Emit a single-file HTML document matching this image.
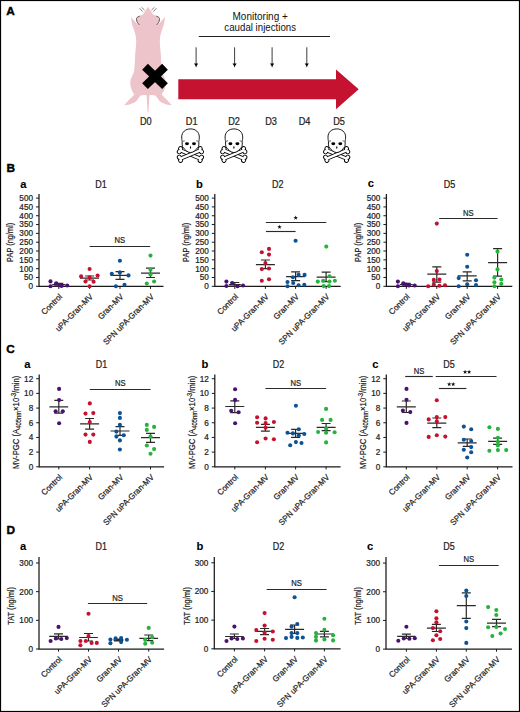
<!DOCTYPE html>
<html><head><meta charset="utf-8"><title>Figure</title>
<style>html,body{margin:0;padding:0;background:#fff;}svg{display:block;}</style>
</head><body>
<svg width="520" height="712" viewBox="0 0 520 712" font-family='"Liberation Sans", sans-serif' fill="#222"><style>text{stroke:#222;stroke-width:0.22px;} .th{stroke:none;fill:#111;} .bd{stroke:#000;stroke-width:0.1px;} .pl{stroke:#000;stroke-width:0.4px;}</style>
<rect x="0" y="0" width="520" height="712" fill="#fff"/>
<text x="6.30" y="14.70" font-size="11.8" text-anchor="start" font-weight="bold" fill="#000" class="pl">A</text>
<text x="6.40" y="172.20" font-size="11.8" text-anchor="start" font-weight="bold" fill="#000" class="pl">B</text>
<text x="6.30" y="353.00" font-size="11.8" text-anchor="start" font-weight="bold" fill="#000" class="pl">C</text>
<text x="6.40" y="534.40" font-size="11.8" text-anchor="start" font-weight="bold" fill="#000" class="pl">D</text>
<path fill="#eec4cb" d="M148,6.8 C146.20,9.60 144.20,12.60 142.40,14.90 C139.40,15.40 136.20,16.80 136.40,19.60 C136.60,21.80 137.90,23.60 139.30,25.30 L138.90,25.70 C136.90,23.50 133.60,20.20 131.10,17.00 C131.30,21.00 132.10,25.00 133.40,28.50 C134.50,31.50 136.00,35.00 136.20,40.00 C136.30,46.00 135.20,52.00 135.10,56.00 C135.00,62.00 134.30,68.00 134.00,72.00 C132.50,76.00 130.20,79.00 130.20,82.50 C130.20,86.00 131.30,90.50 134.30,94.60 C131.00,98.20 127.20,101.80 124.30,104.90 C128.20,105.60 133.00,103.60 136.20,101.30 C138.00,99.60 139.20,97.20 140.60,95.60 C142.20,94.90 144.20,94.80 146.60,95.20 L147.60,112.60 L148.40,112.6 L149.40,95.20 C151.80,94.80 153.80,94.90 155.40,95.60 C156.80,97.20 158.00,99.60 159.80,101.30 C163.00,103.60 167.80,105.60 171.70,104.90 C168.80,101.80 165.00,98.20 161.70,94.60 C164.70,90.50 165.80,86.00 165.80,82.50 C165.80,79.00 163.50,76.00 162.00,72.00 C161.70,68.00 161.00,62.00 160.90,56.00 C160.80,52.00 159.70,46.00 159.80,40.00 C160.00,35.00 161.50,31.50 162.60,28.50 C163.90,25.00 164.70,21.00 164.90,17.00 C162.40,20.20 159.10,23.50 157.10,25.70 L156.70,25.30 C158.10,23.60 159.40,21.80 159.60,19.60 C159.80,16.80 156.60,15.40 153.60,14.90 C151.80,12.60 149.80,9.60 148.00,6.80 Z"/>
<path fill="none" stroke="#4a4a4a" stroke-width="0.9" d="M139.6,16.2 C137.6,16.6 136.2,17.8 136.5,19.8 C136.8,21.8 138,23.6 139.4,25.0"/>
<path fill="none" stroke="#4a4a4a" stroke-width="0.9" d="M156.4,16.2 C158.4,16.6 159.8,17.8 159.5,19.8 C159.2,21.8 158,23.6 156.6,25.0"/>
<path fill="none" stroke="#4a4a4a" stroke-width="0.7" d="M139.5,8.2 L142.6,11.6 M141.5,7.2 L144.5,10.1 M156.5,8.2 L153.4,11.6 M154.5,7.2 L151.5,10.1"/>
<path stroke="#000" stroke-width="8.2" d="M145,66.7 L165,86.1 M165,66.7 L145,86.1"/>
<path fill="#c41230" d="M178.3,79.3 L336,79.3 L336,69.4 L358.7,89.3 L336,109.2 L336,99.2 L178.3,99.2 Z"/>
<line x1="198.8" y1="36.5" x2="330" y2="36.5" stroke="#222" stroke-width="1.1"/>
<text x="260.20" y="19.80" font-size="10" text-anchor="middle" font-weight="normal" class="th">Monitoring +</text>
<text x="0" y="0" transform="translate(260.20,30.80) scale(0.97,1)" font-size="10" text-anchor="middle" font-weight="normal" class="th">caudal injections</text>
<line x1="196.1" y1="47.3" x2="196.1" y2="64.2" stroke="#333" stroke-width="0.95"/>
<path fill="#000" d="M194.0,63.5 L198.2,63.5 L197.0,65.2 L196.1,67.4 L195.2,65.2 Z"/>
<line x1="234.6" y1="47.3" x2="234.6" y2="64.2" stroke="#333" stroke-width="0.95"/>
<path fill="#000" d="M232.5,63.5 L236.7,63.5 L235.5,65.2 L234.6,67.4 L233.7,65.2 Z"/>
<line x1="272.1" y1="47.3" x2="272.1" y2="64.2" stroke="#333" stroke-width="0.95"/>
<path fill="#000" d="M270.0,63.5 L274.20000000000005,63.5 L273.0,65.2 L272.1,67.4 L271.20000000000005,65.2 Z"/>
<line x1="306.8" y1="47.3" x2="306.8" y2="64.2" stroke="#333" stroke-width="0.95"/>
<path fill="#000" d="M304.7,63.5 L308.90000000000003,63.5 L307.7,65.2 L306.8,67.4 L305.90000000000003,65.2 Z"/>
<text x="0" y="0" transform="translate(145.80,124.60) scale(0.92,1)" font-size="10" text-anchor="middle" font-weight="normal" >D0</text>
<text x="0" y="0" transform="translate(191.70,124.60) scale(0.92,1)" font-size="10" text-anchor="middle" font-weight="normal" >D1</text>
<text x="0" y="0" transform="translate(234.10,124.60) scale(0.92,1)" font-size="10" text-anchor="middle" font-weight="normal" >D2</text>
<text x="0" y="0" transform="translate(271.10,124.60) scale(0.92,1)" font-size="10" text-anchor="middle" font-weight="normal" >D3</text>
<text x="0" y="0" transform="translate(304.50,124.60) scale(0.92,1)" font-size="10" text-anchor="middle" font-weight="normal" >D4</text>
<text x="0" y="0" transform="translate(339.00,124.60) scale(0.92,1)" font-size="10" text-anchor="middle" font-weight="normal" >D5</text>
<g transform="translate(190.4,154.5) rotate(22.5)"><rect x="-11.3" y="-1.15" width="22.6" height="2.3" fill="#000" stroke="#000" stroke-width="1.8"/><circle cx="-11.3" cy="-1.7" r="1.6" fill="#000" stroke="#000" stroke-width="1.8"/><circle cx="-11.3" cy="1.7" r="1.6" fill="#000" stroke="#000" stroke-width="1.8"/><circle cx="11.3" cy="-1.7" r="1.6" fill="#000" stroke="#000" stroke-width="1.8"/><circle cx="11.3" cy="1.7" r="1.6" fill="#000" stroke="#000" stroke-width="1.8"/></g>
<g transform="translate(190.4,154.5) rotate(22.5)"><rect x="-11.3" y="-1.15" width="22.6" height="2.3" fill="#fff"/><circle cx="-11.3" cy="-1.7" r="1.6" fill="#fff"/><circle cx="-11.3" cy="1.7" r="1.6" fill="#fff"/><circle cx="11.3" cy="-1.7" r="1.6" fill="#fff"/><circle cx="11.3" cy="1.7" r="1.6" fill="#fff"/></g>
<g transform="translate(190.4,154.5) rotate(-22.5)"><rect x="-11.3" y="-1.15" width="22.6" height="2.3" fill="#000" stroke="#000" stroke-width="1.8"/><circle cx="-11.3" cy="-1.7" r="1.6" fill="#000" stroke="#000" stroke-width="1.8"/><circle cx="-11.3" cy="1.7" r="1.6" fill="#000" stroke="#000" stroke-width="1.8"/><circle cx="11.3" cy="-1.7" r="1.6" fill="#000" stroke="#000" stroke-width="1.8"/><circle cx="11.3" cy="1.7" r="1.6" fill="#000" stroke="#000" stroke-width="1.8"/></g>
<g transform="translate(190.4,154.5) rotate(-22.5)"><rect x="-11.3" y="-1.15" width="22.6" height="2.3" fill="#fff"/><circle cx="-11.3" cy="-1.7" r="1.6" fill="#fff"/><circle cx="-11.3" cy="1.7" r="1.6" fill="#fff"/><circle cx="11.3" cy="-1.7" r="1.6" fill="#fff"/><circle cx="11.3" cy="1.7" r="1.6" fill="#fff"/></g>
<g transform="translate(190.5,128.9)">
<path fill="#fff" stroke="#000" stroke-width="0.9" stroke-linejoin="round" d="M0,0 C5,0 8.8,3.2 8.8,8 C8.8,10 8.6,11.5 8.3,12.5 C8.5,14 8.4,16.5 8.0,17.8 C6,20.5 3,23.7 0,23.7 C-3,23.7 -6,20.5 -8,17.8 C-8.4,16.5 -8.5,14 -8.3,12.5 C-8.6,11.5 -8.8,10 -8.8,8 C-8.8,3.2 -5,0 0,0 Z"/>
<path fill="none" stroke="#000" stroke-width="0.6" d="M-7.9,12.4 L-5.8,11.9 M7.9,12.4 L5.8,11.9"/>
<ellipse cx="-3.5" cy="14.8" rx="1.95" ry="1.45" fill="#000"/>
<ellipse cx="3.5" cy="14.8" rx="1.95" ry="1.45" fill="#000"/>
<ellipse cx="0" cy="18.6" rx="0.6" ry="1.2" fill="#000"/>
</g>
<g transform="translate(233.8,154.5) rotate(22.5)"><rect x="-11.3" y="-1.15" width="22.6" height="2.3" fill="#000" stroke="#000" stroke-width="1.8"/><circle cx="-11.3" cy="-1.7" r="1.6" fill="#000" stroke="#000" stroke-width="1.8"/><circle cx="-11.3" cy="1.7" r="1.6" fill="#000" stroke="#000" stroke-width="1.8"/><circle cx="11.3" cy="-1.7" r="1.6" fill="#000" stroke="#000" stroke-width="1.8"/><circle cx="11.3" cy="1.7" r="1.6" fill="#000" stroke="#000" stroke-width="1.8"/></g>
<g transform="translate(233.8,154.5) rotate(22.5)"><rect x="-11.3" y="-1.15" width="22.6" height="2.3" fill="#fff"/><circle cx="-11.3" cy="-1.7" r="1.6" fill="#fff"/><circle cx="-11.3" cy="1.7" r="1.6" fill="#fff"/><circle cx="11.3" cy="-1.7" r="1.6" fill="#fff"/><circle cx="11.3" cy="1.7" r="1.6" fill="#fff"/></g>
<g transform="translate(233.8,154.5) rotate(-22.5)"><rect x="-11.3" y="-1.15" width="22.6" height="2.3" fill="#000" stroke="#000" stroke-width="1.8"/><circle cx="-11.3" cy="-1.7" r="1.6" fill="#000" stroke="#000" stroke-width="1.8"/><circle cx="-11.3" cy="1.7" r="1.6" fill="#000" stroke="#000" stroke-width="1.8"/><circle cx="11.3" cy="-1.7" r="1.6" fill="#000" stroke="#000" stroke-width="1.8"/><circle cx="11.3" cy="1.7" r="1.6" fill="#000" stroke="#000" stroke-width="1.8"/></g>
<g transform="translate(233.8,154.5) rotate(-22.5)"><rect x="-11.3" y="-1.15" width="22.6" height="2.3" fill="#fff"/><circle cx="-11.3" cy="-1.7" r="1.6" fill="#fff"/><circle cx="-11.3" cy="1.7" r="1.6" fill="#fff"/><circle cx="11.3" cy="-1.7" r="1.6" fill="#fff"/><circle cx="11.3" cy="1.7" r="1.6" fill="#fff"/></g>
<g transform="translate(233.9,128.9)">
<path fill="#fff" stroke="#000" stroke-width="0.9" stroke-linejoin="round" d="M0,0 C5,0 8.8,3.2 8.8,8 C8.8,10 8.6,11.5 8.3,12.5 C8.5,14 8.4,16.5 8.0,17.8 C6,20.5 3,23.7 0,23.7 C-3,23.7 -6,20.5 -8,17.8 C-8.4,16.5 -8.5,14 -8.3,12.5 C-8.6,11.5 -8.8,10 -8.8,8 C-8.8,3.2 -5,0 0,0 Z"/>
<path fill="none" stroke="#000" stroke-width="0.6" d="M-7.9,12.4 L-5.8,11.9 M7.9,12.4 L5.8,11.9"/>
<ellipse cx="-3.5" cy="14.8" rx="1.95" ry="1.45" fill="#000"/>
<ellipse cx="3.5" cy="14.8" rx="1.95" ry="1.45" fill="#000"/>
<ellipse cx="0" cy="18.6" rx="0.6" ry="1.2" fill="#000"/>
</g>
<g transform="translate(336.7,154.5) rotate(22.5)"><rect x="-11.3" y="-1.15" width="22.6" height="2.3" fill="#000" stroke="#000" stroke-width="1.8"/><circle cx="-11.3" cy="-1.7" r="1.6" fill="#000" stroke="#000" stroke-width="1.8"/><circle cx="-11.3" cy="1.7" r="1.6" fill="#000" stroke="#000" stroke-width="1.8"/><circle cx="11.3" cy="-1.7" r="1.6" fill="#000" stroke="#000" stroke-width="1.8"/><circle cx="11.3" cy="1.7" r="1.6" fill="#000" stroke="#000" stroke-width="1.8"/></g>
<g transform="translate(336.7,154.5) rotate(22.5)"><rect x="-11.3" y="-1.15" width="22.6" height="2.3" fill="#fff"/><circle cx="-11.3" cy="-1.7" r="1.6" fill="#fff"/><circle cx="-11.3" cy="1.7" r="1.6" fill="#fff"/><circle cx="11.3" cy="-1.7" r="1.6" fill="#fff"/><circle cx="11.3" cy="1.7" r="1.6" fill="#fff"/></g>
<g transform="translate(336.7,154.5) rotate(-22.5)"><rect x="-11.3" y="-1.15" width="22.6" height="2.3" fill="#000" stroke="#000" stroke-width="1.8"/><circle cx="-11.3" cy="-1.7" r="1.6" fill="#000" stroke="#000" stroke-width="1.8"/><circle cx="-11.3" cy="1.7" r="1.6" fill="#000" stroke="#000" stroke-width="1.8"/><circle cx="11.3" cy="-1.7" r="1.6" fill="#000" stroke="#000" stroke-width="1.8"/><circle cx="11.3" cy="1.7" r="1.6" fill="#000" stroke="#000" stroke-width="1.8"/></g>
<g transform="translate(336.7,154.5) rotate(-22.5)"><rect x="-11.3" y="-1.15" width="22.6" height="2.3" fill="#fff"/><circle cx="-11.3" cy="-1.7" r="1.6" fill="#fff"/><circle cx="-11.3" cy="1.7" r="1.6" fill="#fff"/><circle cx="11.3" cy="-1.7" r="1.6" fill="#fff"/><circle cx="11.3" cy="1.7" r="1.6" fill="#fff"/></g>
<g transform="translate(336.8,128.9)">
<path fill="#fff" stroke="#000" stroke-width="0.9" stroke-linejoin="round" d="M0,0 C5,0 8.8,3.2 8.8,8 C8.8,10 8.6,11.5 8.3,12.5 C8.5,14 8.4,16.5 8.0,17.8 C6,20.5 3,23.7 0,23.7 C-3,23.7 -6,20.5 -8,17.8 C-8.4,16.5 -8.5,14 -8.3,12.5 C-8.6,11.5 -8.8,10 -8.8,8 C-8.8,3.2 -5,0 0,0 Z"/>
<path fill="none" stroke="#000" stroke-width="0.6" d="M-7.9,12.4 L-5.8,11.9 M7.9,12.4 L5.8,11.9"/>
<ellipse cx="-3.5" cy="14.8" rx="1.95" ry="1.45" fill="#000"/>
<ellipse cx="3.5" cy="14.8" rx="1.95" ry="1.45" fill="#000"/>
<ellipse cx="0" cy="18.6" rx="0.6" ry="1.2" fill="#000"/>
</g>
<path fill="none" stroke="#1a1a1a" stroke-width="1.25" d="M39.0,194.0 L39.0,286.3 L163.5,286.3"/>
<line x1="36.0" y1="286.30" x2="39.0" y2="286.30" stroke="#1a1a1a" stroke-width="1"/>
<text x="33.00" y="289.20" font-size="8.2" text-anchor="end" font-weight="normal" fill="#222">0</text>
<line x1="36.0" y1="277.48" x2="39.0" y2="277.48" stroke="#1a1a1a" stroke-width="1"/>
<text x="33.00" y="280.38" font-size="8.2" text-anchor="end" font-weight="normal" fill="#222">50</text>
<line x1="36.0" y1="268.66" x2="39.0" y2="268.66" stroke="#1a1a1a" stroke-width="1"/>
<text x="33.00" y="271.56" font-size="8.2" text-anchor="end" font-weight="normal" fill="#222">100</text>
<line x1="36.0" y1="259.84" x2="39.0" y2="259.84" stroke="#1a1a1a" stroke-width="1"/>
<text x="33.00" y="262.74" font-size="8.2" text-anchor="end" font-weight="normal" fill="#222">150</text>
<line x1="36.0" y1="251.02" x2="39.0" y2="251.02" stroke="#1a1a1a" stroke-width="1"/>
<text x="33.00" y="253.92" font-size="8.2" text-anchor="end" font-weight="normal" fill="#222">200</text>
<line x1="36.0" y1="242.20" x2="39.0" y2="242.20" stroke="#1a1a1a" stroke-width="1"/>
<text x="33.00" y="245.10" font-size="8.2" text-anchor="end" font-weight="normal" fill="#222">250</text>
<line x1="36.0" y1="233.38" x2="39.0" y2="233.38" stroke="#1a1a1a" stroke-width="1"/>
<text x="33.00" y="236.28" font-size="8.2" text-anchor="end" font-weight="normal" fill="#222">300</text>
<line x1="36.0" y1="224.56" x2="39.0" y2="224.56" stroke="#1a1a1a" stroke-width="1"/>
<text x="33.00" y="227.46" font-size="8.2" text-anchor="end" font-weight="normal" fill="#222">350</text>
<line x1="36.0" y1="215.74" x2="39.0" y2="215.74" stroke="#1a1a1a" stroke-width="1"/>
<text x="33.00" y="218.64" font-size="8.2" text-anchor="end" font-weight="normal" fill="#222">400</text>
<line x1="36.0" y1="206.92" x2="39.0" y2="206.92" stroke="#1a1a1a" stroke-width="1"/>
<text x="33.00" y="209.82" font-size="8.2" text-anchor="end" font-weight="normal" fill="#222">450</text>
<line x1="36.0" y1="198.10" x2="39.0" y2="198.10" stroke="#1a1a1a" stroke-width="1"/>
<text x="33.00" y="201.00" font-size="8.2" text-anchor="end" font-weight="normal" fill="#222">500</text>
<line x1="58.8" y1="286.3" x2="58.8" y2="288.90000000000003" stroke="#1a1a1a" stroke-width="1"/>
<line x1="89.6" y1="286.3" x2="89.6" y2="288.90000000000003" stroke="#1a1a1a" stroke-width="1"/>
<line x1="120.0" y1="286.3" x2="120.0" y2="288.90000000000003" stroke="#1a1a1a" stroke-width="1"/>
<line x1="150.5" y1="286.3" x2="150.5" y2="288.90000000000003" stroke="#1a1a1a" stroke-width="1"/>
<text x="0" y="0" font-size="8.2" text-anchor="end" fill="#222" transform="translate(62.70,297.20) rotate(-45) scale(0.97,1)">Control</text>
<text x="0" y="0" font-size="8.2" text-anchor="end" fill="#222" transform="translate(93.50,297.20) rotate(-45) scale(0.97,1)">uPA-Gran-MV</text>
<text x="0" y="0" font-size="8.2" text-anchor="end" fill="#222" transform="translate(123.90,297.20) rotate(-45) scale(0.97,1)">Gran-MV</text>
<text x="0" y="0" font-size="8.2" text-anchor="end" fill="#222" transform="translate(154.40,297.20) rotate(-45) scale(0.97,1)">SPN uPA-Gran-MV</text>
<text x="0" y="0" font-size="9.2" text-anchor="middle" fill="#222" transform="translate(13.4,242.4) rotate(-90) scale(0.8,1)">PAP (ng/ml)</text>
<text x="20.20" y="188.00" font-size="11.2" text-anchor="start" font-weight="bold" fill="#000" class="bd">a</text>
<text x="0" y="0" transform="translate(101.00,188.00) scale(0.9,1)" font-size="10" text-anchor="middle" font-weight="normal" fill="#222">D1</text>
<line x1="89.6" y1="246.5" x2="150.1" y2="246.5" stroke="#2a2a2a" stroke-width="1.15"/>
<text x="0" y="0" transform="translate(119.85,243.40) scale(0.88,1)" font-size="8.7" text-anchor="middle" font-weight="normal" fill="#222">NS</text>
<path fill="none" stroke="#2a2a2a" stroke-width="1.2" d="M52.30,284.70 L65.30,284.70 M58.80,283.40 L58.80,286.00 M54.30,283.40 L63.30,283.40 M54.30,286.00 L63.30,286.00"/>
<path fill="none" stroke="#2a2a2a" stroke-width="1.2" d="M80.10,278.20 L99.10,278.20 M89.60,276.00 L89.60,280.00 M85.10,276.00 L94.10,276.00 M85.10,280.00 L94.10,280.00"/>
<path fill="none" stroke="#2a2a2a" stroke-width="1.2" d="M110.50,275.40 L129.50,275.40 M120.00,271.70 L120.00,279.40 M115.50,271.70 L124.50,271.70 M115.50,279.40 L124.50,279.40"/>
<path fill="none" stroke="#2a2a2a" stroke-width="1.2" d="M141.00,273.10 L160.00,273.10 M150.50,268.10 L150.50,277.50 M146.00,268.10 L155.00,268.10 M146.00,277.50 L155.00,277.50"/>
<circle cx="50.50" cy="281.40" r="2.05" fill="#4a1270"/>
<circle cx="50.50" cy="286.30" r="2.05" fill="#4a1270"/>
<circle cx="56.20" cy="283.40" r="2.05" fill="#4a1270"/>
<circle cx="60.00" cy="285.20" r="2.05" fill="#4a1270"/>
<circle cx="61.60" cy="285.90" r="2.05" fill="#4a1270"/>
<circle cx="67.20" cy="285.50" r="2.05" fill="#4a1270"/>
<circle cx="89.60" cy="269.00" r="2.05" fill="#c8102e"/>
<circle cx="81.10" cy="276.40" r="2.05" fill="#c8102e"/>
<circle cx="97.60" cy="275.50" r="2.05" fill="#c8102e"/>
<circle cx="89.60" cy="277.40" r="2.05" fill="#c8102e"/>
<circle cx="85.50" cy="281.50" r="2.05" fill="#c8102e"/>
<circle cx="93.60" cy="281.80" r="2.05" fill="#c8102e"/>
<circle cx="89.60" cy="286.30" r="2.05" fill="#c8102e"/>
<circle cx="119.90" cy="260.70" r="2.05" fill="#0b5296"/>
<circle cx="119.90" cy="272.40" r="2.05" fill="#0b5296"/>
<circle cx="111.80" cy="273.70" r="2.05" fill="#0b5296"/>
<circle cx="128.50" cy="275.40" r="2.05" fill="#0b5296"/>
<circle cx="115.90" cy="286.30" r="2.05" fill="#0b5296"/>
<circle cx="124.50" cy="284.80" r="2.05" fill="#0b5296"/>
<circle cx="150.50" cy="255.60" r="2.05" fill="#27b33b"/>
<circle cx="150.50" cy="269.70" r="2.05" fill="#27b33b"/>
<circle cx="150.50" cy="274.40" r="2.05" fill="#27b33b"/>
<circle cx="146.80" cy="283.60" r="2.05" fill="#27b33b"/>
<circle cx="154.10" cy="281.50" r="2.05" fill="#27b33b"/>
<path fill="none" stroke="#1a1a1a" stroke-width="1.25" d="M214.8,194.0 L214.8,286.3 L340.6,286.3"/>
<line x1="211.8" y1="286.30" x2="214.8" y2="286.30" stroke="#1a1a1a" stroke-width="1"/>
<text x="208.80" y="289.20" font-size="8.2" text-anchor="end" font-weight="normal" fill="#222">0</text>
<line x1="211.8" y1="277.48" x2="214.8" y2="277.48" stroke="#1a1a1a" stroke-width="1"/>
<text x="208.80" y="280.38" font-size="8.2" text-anchor="end" font-weight="normal" fill="#222">50</text>
<line x1="211.8" y1="268.66" x2="214.8" y2="268.66" stroke="#1a1a1a" stroke-width="1"/>
<text x="208.80" y="271.56" font-size="8.2" text-anchor="end" font-weight="normal" fill="#222">100</text>
<line x1="211.8" y1="259.84" x2="214.8" y2="259.84" stroke="#1a1a1a" stroke-width="1"/>
<text x="208.80" y="262.74" font-size="8.2" text-anchor="end" font-weight="normal" fill="#222">150</text>
<line x1="211.8" y1="251.02" x2="214.8" y2="251.02" stroke="#1a1a1a" stroke-width="1"/>
<text x="208.80" y="253.92" font-size="8.2" text-anchor="end" font-weight="normal" fill="#222">200</text>
<line x1="211.8" y1="242.20" x2="214.8" y2="242.20" stroke="#1a1a1a" stroke-width="1"/>
<text x="208.80" y="245.10" font-size="8.2" text-anchor="end" font-weight="normal" fill="#222">250</text>
<line x1="211.8" y1="233.38" x2="214.8" y2="233.38" stroke="#1a1a1a" stroke-width="1"/>
<text x="208.80" y="236.28" font-size="8.2" text-anchor="end" font-weight="normal" fill="#222">300</text>
<line x1="211.8" y1="224.56" x2="214.8" y2="224.56" stroke="#1a1a1a" stroke-width="1"/>
<text x="208.80" y="227.46" font-size="8.2" text-anchor="end" font-weight="normal" fill="#222">350</text>
<line x1="211.8" y1="215.74" x2="214.8" y2="215.74" stroke="#1a1a1a" stroke-width="1"/>
<text x="208.80" y="218.64" font-size="8.2" text-anchor="end" font-weight="normal" fill="#222">400</text>
<line x1="211.8" y1="206.92" x2="214.8" y2="206.92" stroke="#1a1a1a" stroke-width="1"/>
<text x="208.80" y="209.82" font-size="8.2" text-anchor="end" font-weight="normal" fill="#222">450</text>
<line x1="211.8" y1="198.10" x2="214.8" y2="198.10" stroke="#1a1a1a" stroke-width="1"/>
<text x="208.80" y="201.00" font-size="8.2" text-anchor="end" font-weight="normal" fill="#222">500</text>
<line x1="234.8" y1="286.3" x2="234.8" y2="288.90000000000003" stroke="#1a1a1a" stroke-width="1"/>
<line x1="265.4" y1="286.3" x2="265.4" y2="288.90000000000003" stroke="#1a1a1a" stroke-width="1"/>
<line x1="295.6" y1="286.3" x2="295.6" y2="288.90000000000003" stroke="#1a1a1a" stroke-width="1"/>
<line x1="326.1" y1="286.3" x2="326.1" y2="288.90000000000003" stroke="#1a1a1a" stroke-width="1"/>
<text x="0" y="0" font-size="8.2" text-anchor="end" fill="#222" transform="translate(238.70,297.20) rotate(-45) scale(0.97,1)">Control</text>
<text x="0" y="0" font-size="8.2" text-anchor="end" fill="#222" transform="translate(269.30,297.20) rotate(-45) scale(0.97,1)">uPA-Gran-MV</text>
<text x="0" y="0" font-size="8.2" text-anchor="end" fill="#222" transform="translate(299.50,297.20) rotate(-45) scale(0.97,1)">Gran-MV</text>
<text x="0" y="0" font-size="8.2" text-anchor="end" fill="#222" transform="translate(330.00,297.20) rotate(-45) scale(0.97,1)">SPN uPA-Gran-MV</text>
<text x="0" y="0" font-size="9.2" text-anchor="middle" fill="#222" transform="translate(189.2,242.4) rotate(-90) scale(0.8,1)">PAP (ng/ml)</text>
<text x="196.00" y="187.50" font-size="11.2" text-anchor="start" font-weight="bold" fill="#000" class="bd">b</text>
<text x="0" y="0" transform="translate(277.70,187.50) scale(0.9,1)" font-size="10" text-anchor="middle" font-weight="normal" fill="#222">D2</text>
<line x1="265.9" y1="222.5" x2="326.3" y2="222.5" stroke="#2a2a2a" stroke-width="1.15"/>
<polygon fill="#111" points="295.70,215.50 296.29,216.99 297.89,217.09 296.65,218.11 297.05,219.66 295.70,218.80 294.35,219.66 294.75,218.11 293.51,217.09 295.11,216.99"/>
<line x1="265.9" y1="231.5" x2="295.6" y2="231.5" stroke="#2a2a2a" stroke-width="1.15"/>
<polygon fill="#111" points="279.50,224.70 280.09,226.19 281.69,226.29 280.45,227.31 280.85,228.86 279.50,228.00 278.15,228.86 278.55,227.31 277.31,226.29 278.91,226.19"/>
<path fill="none" stroke="#2a2a2a" stroke-width="1.2" d="M228.80,284.60 L240.80,284.60 M234.80,282.50 L234.80,286.30 M230.30,282.50 L239.30,282.50 M230.30,286.30 L239.30,286.30"/>
<path fill="none" stroke="#2a2a2a" stroke-width="1.2" d="M255.90,264.70 L274.90,264.70 M265.40,260.00 L265.40,268.70 M260.90,260.00 L269.90,260.00 M260.90,268.70 L269.90,268.70"/>
<path fill="none" stroke="#2a2a2a" stroke-width="1.2" d="M286.10,276.60 L305.10,276.60 M295.60,271.80 L295.60,280.70 M291.10,271.80 L300.10,271.80 M291.10,280.70 L300.10,280.70"/>
<path fill="none" stroke="#2a2a2a" stroke-width="1.2" d="M316.60,277.20 L335.60,277.20 M326.10,272.20 L326.10,281.60 M321.60,272.20 L330.60,272.20 M321.60,281.60 L330.60,281.60"/>
<circle cx="226.40" cy="281.60" r="2.05" fill="#4a1270"/>
<circle cx="226.40" cy="286.00" r="2.05" fill="#4a1270"/>
<circle cx="232.20" cy="283.00" r="2.05" fill="#4a1270"/>
<circle cx="237.60" cy="286.20" r="2.05" fill="#4a1270"/>
<circle cx="243.00" cy="285.50" r="2.05" fill="#4a1270"/>
<circle cx="269.00" cy="248.90" r="2.05" fill="#c8102e"/>
<circle cx="261.80" cy="252.30" r="2.05" fill="#c8102e"/>
<circle cx="269.00" cy="254.60" r="2.05" fill="#c8102e"/>
<circle cx="265.40" cy="263.10" r="2.05" fill="#c8102e"/>
<circle cx="261.80" cy="269.10" r="2.05" fill="#c8102e"/>
<circle cx="269.00" cy="268.50" r="2.05" fill="#c8102e"/>
<circle cx="261.80" cy="280.80" r="2.05" fill="#c8102e"/>
<circle cx="269.00" cy="279.20" r="2.05" fill="#c8102e"/>
<circle cx="295.60" cy="240.70" r="2.05" fill="#0b5296"/>
<circle cx="298.60" cy="274.90" r="2.05" fill="#0b5296"/>
<circle cx="304.60" cy="274.90" r="2.05" fill="#0b5296"/>
<circle cx="292.90" cy="277.30" r="2.05" fill="#0b5296"/>
<circle cx="287.50" cy="282.00" r="2.05" fill="#0b5296"/>
<circle cx="293.20" cy="283.00" r="2.05" fill="#0b5296"/>
<circle cx="287.50" cy="286.30" r="2.05" fill="#0b5296"/>
<circle cx="298.60" cy="285.30" r="2.05" fill="#0b5296"/>
<circle cx="304.30" cy="284.70" r="2.05" fill="#0b5296"/>
<circle cx="326.30" cy="246.60" r="2.05" fill="#27b33b"/>
<circle cx="329.50" cy="276.20" r="2.05" fill="#27b33b"/>
<circle cx="317.80" cy="281.60" r="2.05" fill="#27b33b"/>
<circle cx="323.20" cy="280.70" r="2.05" fill="#27b33b"/>
<circle cx="329.50" cy="281.60" r="2.05" fill="#27b33b"/>
<circle cx="334.90" cy="280.70" r="2.05" fill="#27b33b"/>
<circle cx="323.70" cy="286.10" r="2.05" fill="#27b33b"/>
<circle cx="329.10" cy="286.10" r="2.05" fill="#27b33b"/>
<path fill="none" stroke="#1a1a1a" stroke-width="1.25" d="M386.4,194.0 L386.4,286.3 L512.3,286.3"/>
<line x1="383.4" y1="286.30" x2="386.4" y2="286.30" stroke="#1a1a1a" stroke-width="1"/>
<text x="380.40" y="289.20" font-size="8.2" text-anchor="end" font-weight="normal" fill="#222">0</text>
<line x1="383.4" y1="277.48" x2="386.4" y2="277.48" stroke="#1a1a1a" stroke-width="1"/>
<text x="380.40" y="280.38" font-size="8.2" text-anchor="end" font-weight="normal" fill="#222">50</text>
<line x1="383.4" y1="268.66" x2="386.4" y2="268.66" stroke="#1a1a1a" stroke-width="1"/>
<text x="380.40" y="271.56" font-size="8.2" text-anchor="end" font-weight="normal" fill="#222">100</text>
<line x1="383.4" y1="259.84" x2="386.4" y2="259.84" stroke="#1a1a1a" stroke-width="1"/>
<text x="380.40" y="262.74" font-size="8.2" text-anchor="end" font-weight="normal" fill="#222">150</text>
<line x1="383.4" y1="251.02" x2="386.4" y2="251.02" stroke="#1a1a1a" stroke-width="1"/>
<text x="380.40" y="253.92" font-size="8.2" text-anchor="end" font-weight="normal" fill="#222">200</text>
<line x1="383.4" y1="242.20" x2="386.4" y2="242.20" stroke="#1a1a1a" stroke-width="1"/>
<text x="380.40" y="245.10" font-size="8.2" text-anchor="end" font-weight="normal" fill="#222">250</text>
<line x1="383.4" y1="233.38" x2="386.4" y2="233.38" stroke="#1a1a1a" stroke-width="1"/>
<text x="380.40" y="236.28" font-size="8.2" text-anchor="end" font-weight="normal" fill="#222">300</text>
<line x1="383.4" y1="224.56" x2="386.4" y2="224.56" stroke="#1a1a1a" stroke-width="1"/>
<text x="380.40" y="227.46" font-size="8.2" text-anchor="end" font-weight="normal" fill="#222">350</text>
<line x1="383.4" y1="215.74" x2="386.4" y2="215.74" stroke="#1a1a1a" stroke-width="1"/>
<text x="380.40" y="218.64" font-size="8.2" text-anchor="end" font-weight="normal" fill="#222">400</text>
<line x1="383.4" y1="206.92" x2="386.4" y2="206.92" stroke="#1a1a1a" stroke-width="1"/>
<text x="380.40" y="209.82" font-size="8.2" text-anchor="end" font-weight="normal" fill="#222">450</text>
<line x1="383.4" y1="198.10" x2="386.4" y2="198.10" stroke="#1a1a1a" stroke-width="1"/>
<text x="380.40" y="201.00" font-size="8.2" text-anchor="end" font-weight="normal" fill="#222">500</text>
<line x1="406.3" y1="286.3" x2="406.3" y2="288.90000000000003" stroke="#1a1a1a" stroke-width="1"/>
<line x1="436.8" y1="286.3" x2="436.8" y2="288.90000000000003" stroke="#1a1a1a" stroke-width="1"/>
<line x1="467.2" y1="286.3" x2="467.2" y2="288.90000000000003" stroke="#1a1a1a" stroke-width="1"/>
<line x1="497.6" y1="286.3" x2="497.6" y2="288.90000000000003" stroke="#1a1a1a" stroke-width="1"/>
<text x="0" y="0" font-size="8.2" text-anchor="end" fill="#222" transform="translate(410.20,297.20) rotate(-45) scale(0.97,1)">Control</text>
<text x="0" y="0" font-size="8.2" text-anchor="end" fill="#222" transform="translate(440.70,297.20) rotate(-45) scale(0.97,1)">uPA-Gran-MV</text>
<text x="0" y="0" font-size="8.2" text-anchor="end" fill="#222" transform="translate(471.10,297.20) rotate(-45) scale(0.97,1)">Gran-MV</text>
<text x="0" y="0" font-size="8.2" text-anchor="end" fill="#222" transform="translate(501.50,297.20) rotate(-45) scale(0.97,1)">SPN uPA-Gran-MV</text>
<text x="0" y="0" font-size="9.2" text-anchor="middle" fill="#222" transform="translate(360.8,242.4) rotate(-90) scale(0.8,1)">PAP (ng/ml)</text>
<text x="367.70" y="187.20" font-size="11.2" text-anchor="start" font-weight="bold" fill="#000" class="bd">c</text>
<text x="0" y="0" transform="translate(449.60,187.50) scale(0.9,1)" font-size="10" text-anchor="middle" font-weight="normal" fill="#222">D5</text>
<line x1="439.2" y1="218.5" x2="497.5" y2="218.5" stroke="#2a2a2a" stroke-width="1.15"/>
<text x="0" y="0" transform="translate(468.35,215.50) scale(0.88,1)" font-size="8.7" text-anchor="middle" font-weight="normal" fill="#222">NS</text>
<path fill="none" stroke="#2a2a2a" stroke-width="1.2" d="M399.80,284.50 L412.80,284.50 M406.30,283.30 L406.30,285.80 M401.80,283.30 L410.80,283.30 M401.80,285.80 L410.80,285.80"/>
<path fill="none" stroke="#2a2a2a" stroke-width="1.2" d="M427.30,274.20 L446.30,274.20 M436.80,266.80 L436.80,282.20 M432.30,266.80 L441.30,266.80 M432.30,282.20 L441.30,282.20"/>
<path fill="none" stroke="#2a2a2a" stroke-width="1.2" d="M457.70,275.90 L476.70,275.90 M467.20,271.80 L467.20,280.80 M462.70,271.80 L471.70,271.80 M462.70,280.80 L471.70,280.80"/>
<path fill="none" stroke="#2a2a2a" stroke-width="1.2" d="M488.10,262.70 L507.10,262.70 M497.60,248.70 L497.60,276.10 M493.10,248.70 L502.10,248.70 M493.10,276.10 L502.10,276.10"/>
<circle cx="397.90" cy="281.60" r="2.05" fill="#4a1270"/>
<circle cx="397.90" cy="286.20" r="2.05" fill="#4a1270"/>
<circle cx="403.30" cy="283.30" r="2.05" fill="#4a1270"/>
<circle cx="406.20" cy="284.60" r="2.05" fill="#4a1270"/>
<circle cx="408.90" cy="285.50" r="2.05" fill="#4a1270"/>
<circle cx="414.70" cy="285.50" r="2.05" fill="#4a1270"/>
<circle cx="436.80" cy="223.60" r="2.05" fill="#c8102e"/>
<circle cx="436.80" cy="271.10" r="2.05" fill="#c8102e"/>
<circle cx="433.80" cy="279.90" r="2.05" fill="#c8102e"/>
<circle cx="439.50" cy="279.50" r="2.05" fill="#c8102e"/>
<circle cx="433.80" cy="284.60" r="2.05" fill="#c8102e"/>
<circle cx="428.20" cy="286.20" r="2.05" fill="#c8102e"/>
<circle cx="439.50" cy="285.70" r="2.05" fill="#c8102e"/>
<circle cx="445.00" cy="285.30" r="2.05" fill="#c8102e"/>
<circle cx="467.20" cy="254.70" r="2.05" fill="#0b5296"/>
<circle cx="467.20" cy="266.70" r="2.05" fill="#0b5296"/>
<circle cx="458.70" cy="278.10" r="2.05" fill="#0b5296"/>
<circle cx="476.00" cy="280.20" r="2.05" fill="#0b5296"/>
<circle cx="467.20" cy="284.20" r="2.05" fill="#0b5296"/>
<circle cx="458.70" cy="286.20" r="2.05" fill="#0b5296"/>
<circle cx="476.00" cy="285.10" r="2.05" fill="#0b5296"/>
<circle cx="497.50" cy="251.60" r="2.05" fill="#27b33b"/>
<circle cx="497.50" cy="269.40" r="2.05" fill="#27b33b"/>
<circle cx="494.40" cy="277.60" r="2.05" fill="#27b33b"/>
<circle cx="501.30" cy="279.50" r="2.05" fill="#27b33b"/>
<circle cx="494.40" cy="282.20" r="2.05" fill="#27b33b"/>
<circle cx="501.30" cy="283.90" r="2.05" fill="#27b33b"/>
<circle cx="494.40" cy="286.30" r="2.05" fill="#27b33b"/>
<path fill="none" stroke="#1a1a1a" stroke-width="1.25" d="M39.2,374.6 L39.2,466.8 L164.1,466.8"/>
<line x1="36.2" y1="466.80" x2="39.2" y2="466.80" stroke="#1a1a1a" stroke-width="1"/>
<text x="33.20" y="469.70" font-size="8.2" text-anchor="end" font-weight="normal" fill="#222">0</text>
<line x1="36.2" y1="452.12" x2="39.2" y2="452.12" stroke="#1a1a1a" stroke-width="1"/>
<text x="33.20" y="455.02" font-size="8.2" text-anchor="end" font-weight="normal" fill="#222">2</text>
<line x1="36.2" y1="437.44" x2="39.2" y2="437.44" stroke="#1a1a1a" stroke-width="1"/>
<text x="33.20" y="440.34" font-size="8.2" text-anchor="end" font-weight="normal" fill="#222">4</text>
<line x1="36.2" y1="422.76" x2="39.2" y2="422.76" stroke="#1a1a1a" stroke-width="1"/>
<text x="33.20" y="425.66" font-size="8.2" text-anchor="end" font-weight="normal" fill="#222">6</text>
<line x1="36.2" y1="408.08" x2="39.2" y2="408.08" stroke="#1a1a1a" stroke-width="1"/>
<text x="33.20" y="410.98" font-size="8.2" text-anchor="end" font-weight="normal" fill="#222">8</text>
<line x1="36.2" y1="393.40" x2="39.2" y2="393.40" stroke="#1a1a1a" stroke-width="1"/>
<text x="33.20" y="396.30" font-size="8.2" text-anchor="end" font-weight="normal" fill="#222">10</text>
<line x1="36.2" y1="378.72" x2="39.2" y2="378.72" stroke="#1a1a1a" stroke-width="1"/>
<text x="33.20" y="381.62" font-size="8.2" text-anchor="end" font-weight="normal" fill="#222">12</text>
<line x1="58.8" y1="466.8" x2="58.8" y2="469.40000000000003" stroke="#1a1a1a" stroke-width="1"/>
<line x1="89.6" y1="466.8" x2="89.6" y2="469.40000000000003" stroke="#1a1a1a" stroke-width="1"/>
<line x1="120.0" y1="466.8" x2="120.0" y2="469.40000000000003" stroke="#1a1a1a" stroke-width="1"/>
<line x1="150.5" y1="466.8" x2="150.5" y2="469.40000000000003" stroke="#1a1a1a" stroke-width="1"/>
<text x="0" y="0" font-size="8.2" text-anchor="end" fill="#222" transform="translate(62.70,477.70) rotate(-45) scale(0.97,1)">Control</text>
<text x="0" y="0" font-size="8.2" text-anchor="end" fill="#222" transform="translate(93.50,477.70) rotate(-45) scale(0.97,1)">uPA-Gran-MV</text>
<text x="0" y="0" font-size="8.2" text-anchor="end" fill="#222" transform="translate(123.90,477.70) rotate(-45) scale(0.97,1)">Gran-MV</text>
<text x="0" y="0" font-size="8.2" text-anchor="end" fill="#222" transform="translate(154.40,477.70) rotate(-45) scale(0.97,1)">SPN uPA-Gran-MV</text>
<text x="0" y="0" font-size="9.0" text-anchor="middle" fill="#222" transform="translate(19.3,422.4) rotate(-90) scale(0.86,1)">MV-PGC (A<tspan font-size="6.8" dy="1.9">405nm</tspan><tspan dy="-1.9">×10</tspan><tspan font-size="6.4" dy="-3">-3</tspan><tspan dy="3">/min)</tspan></text>
<text x="24.20" y="368.00" font-size="11.2" text-anchor="start" font-weight="bold" fill="#000" class="bd">a</text>
<text x="0" y="0" transform="translate(101.50,367.80) scale(0.9,1)" font-size="10" text-anchor="middle" font-weight="normal" fill="#222">D1</text>
<line x1="89.8" y1="389.5" x2="150.6" y2="389.5" stroke="#2a2a2a" stroke-width="1.15"/>
<text x="0" y="0" transform="translate(120.20,386.40) scale(0.88,1)" font-size="8.7" text-anchor="middle" font-weight="normal" fill="#222">NS</text>
<path fill="none" stroke="#2a2a2a" stroke-width="1.2" d="M49.40,406.90 L68.20,406.90 M58.80,400.40 L58.80,413.10 M54.30,400.40 L63.30,400.40 M54.30,413.10 L63.30,413.10"/>
<path fill="none" stroke="#2a2a2a" stroke-width="1.2" d="M80.10,423.90 L99.10,423.90 M89.60,418.50 L89.60,429.20 M85.10,418.50 L94.10,418.50 M85.10,429.20 L94.10,429.20"/>
<path fill="none" stroke="#2a2a2a" stroke-width="1.2" d="M110.50,431.00 L129.50,431.00 M120.00,426.60 L120.00,435.30 M115.50,426.60 L124.50,426.60 M115.50,435.30 L124.50,435.30"/>
<path fill="none" stroke="#2a2a2a" stroke-width="1.2" d="M141.00,437.70 L160.00,437.70 M150.50,433.40 L150.50,442.40 M146.00,433.40 L155.00,433.40 M146.00,442.40 L155.00,442.40"/>
<circle cx="59.10" cy="388.90" r="2.05" fill="#4a1270"/>
<circle cx="59.10" cy="400.00" r="2.05" fill="#4a1270"/>
<circle cx="55.60" cy="411.20" r="2.05" fill="#4a1270"/>
<circle cx="62.80" cy="411.20" r="2.05" fill="#4a1270"/>
<circle cx="59.10" cy="423.30" r="2.05" fill="#4a1270"/>
<circle cx="89.80" cy="403.40" r="2.05" fill="#c8102e"/>
<circle cx="85.50" cy="413.60" r="2.05" fill="#c8102e"/>
<circle cx="93.30" cy="413.10" r="2.05" fill="#c8102e"/>
<circle cx="89.80" cy="422.00" r="2.05" fill="#c8102e"/>
<circle cx="85.50" cy="434.60" r="2.05" fill="#c8102e"/>
<circle cx="93.30" cy="434.60" r="2.05" fill="#c8102e"/>
<circle cx="89.80" cy="441.90" r="2.05" fill="#c8102e"/>
<circle cx="119.90" cy="413.10" r="2.05" fill="#0b5296"/>
<circle cx="119.90" cy="417.90" r="2.05" fill="#0b5296"/>
<circle cx="119.90" cy="424.90" r="2.05" fill="#0b5296"/>
<circle cx="116.40" cy="431.60" r="2.05" fill="#0b5296"/>
<circle cx="116.40" cy="436.60" r="2.05" fill="#0b5296"/>
<circle cx="123.80" cy="435.30" r="2.05" fill="#0b5296"/>
<circle cx="119.90" cy="440.40" r="2.05" fill="#0b5296"/>
<circle cx="119.90" cy="449.50" r="2.05" fill="#0b5296"/>
<circle cx="146.80" cy="424.90" r="2.05" fill="#27b33b"/>
<circle cx="154.10" cy="426.90" r="2.05" fill="#27b33b"/>
<circle cx="146.80" cy="429.90" r="2.05" fill="#27b33b"/>
<circle cx="150.50" cy="436.60" r="2.05" fill="#27b33b"/>
<circle cx="146.80" cy="445.50" r="2.05" fill="#27b33b"/>
<circle cx="154.10" cy="449.10" r="2.05" fill="#27b33b"/>
<circle cx="150.50" cy="453.80" r="2.05" fill="#27b33b"/>
<path fill="none" stroke="#1a1a1a" stroke-width="1.25" d="M214.8,374.6 L214.8,466.8 L340.6,466.8"/>
<line x1="211.8" y1="466.80" x2="214.8" y2="466.80" stroke="#1a1a1a" stroke-width="1"/>
<text x="208.80" y="469.70" font-size="8.2" text-anchor="end" font-weight="normal" fill="#222">0</text>
<line x1="211.8" y1="452.12" x2="214.8" y2="452.12" stroke="#1a1a1a" stroke-width="1"/>
<text x="208.80" y="455.02" font-size="8.2" text-anchor="end" font-weight="normal" fill="#222">2</text>
<line x1="211.8" y1="437.44" x2="214.8" y2="437.44" stroke="#1a1a1a" stroke-width="1"/>
<text x="208.80" y="440.34" font-size="8.2" text-anchor="end" font-weight="normal" fill="#222">4</text>
<line x1="211.8" y1="422.76" x2="214.8" y2="422.76" stroke="#1a1a1a" stroke-width="1"/>
<text x="208.80" y="425.66" font-size="8.2" text-anchor="end" font-weight="normal" fill="#222">6</text>
<line x1="211.8" y1="408.08" x2="214.8" y2="408.08" stroke="#1a1a1a" stroke-width="1"/>
<text x="208.80" y="410.98" font-size="8.2" text-anchor="end" font-weight="normal" fill="#222">8</text>
<line x1="211.8" y1="393.40" x2="214.8" y2="393.40" stroke="#1a1a1a" stroke-width="1"/>
<text x="208.80" y="396.30" font-size="8.2" text-anchor="end" font-weight="normal" fill="#222">10</text>
<line x1="211.8" y1="378.72" x2="214.8" y2="378.72" stroke="#1a1a1a" stroke-width="1"/>
<text x="208.80" y="381.62" font-size="8.2" text-anchor="end" font-weight="normal" fill="#222">12</text>
<line x1="234.8" y1="466.8" x2="234.8" y2="469.40000000000003" stroke="#1a1a1a" stroke-width="1"/>
<line x1="265.4" y1="466.8" x2="265.4" y2="469.40000000000003" stroke="#1a1a1a" stroke-width="1"/>
<line x1="295.6" y1="466.8" x2="295.6" y2="469.40000000000003" stroke="#1a1a1a" stroke-width="1"/>
<line x1="326.1" y1="466.8" x2="326.1" y2="469.40000000000003" stroke="#1a1a1a" stroke-width="1"/>
<text x="0" y="0" font-size="8.2" text-anchor="end" fill="#222" transform="translate(238.70,477.70) rotate(-45) scale(0.97,1)">Control</text>
<text x="0" y="0" font-size="8.2" text-anchor="end" fill="#222" transform="translate(269.30,477.70) rotate(-45) scale(0.97,1)">uPA-Gran-MV</text>
<text x="0" y="0" font-size="8.2" text-anchor="end" fill="#222" transform="translate(299.50,477.70) rotate(-45) scale(0.97,1)">Gran-MV</text>
<text x="0" y="0" font-size="8.2" text-anchor="end" fill="#222" transform="translate(330.00,477.70) rotate(-45) scale(0.97,1)">SPN uPA-Gran-MV</text>
<text x="0" y="0" font-size="9.0" text-anchor="middle" fill="#222" transform="translate(194.9,422.4) rotate(-90) scale(0.86,1)">MV-PGC (A<tspan font-size="6.8" dy="1.9">405nm</tspan><tspan dy="-1.9">×10</tspan><tspan font-size="6.4" dy="-3">-3</tspan><tspan dy="3">/min)</tspan></text>
<text x="201.60" y="368.00" font-size="11.2" text-anchor="start" font-weight="bold" fill="#000" class="bd">b</text>
<text x="0" y="0" transform="translate(278.40,367.80) scale(0.9,1)" font-size="10" text-anchor="middle" font-weight="normal" fill="#222">D2</text>
<line x1="265.4" y1="388.5" x2="326.1" y2="388.5" stroke="#2a2a2a" stroke-width="1.15"/>
<text x="0" y="0" transform="translate(295.75,385.50) scale(0.88,1)" font-size="8.7" text-anchor="middle" font-weight="normal" fill="#222">NS</text>
<path fill="none" stroke="#2a2a2a" stroke-width="1.2" d="M225.30,406.50 L244.30,406.50 M234.80,400.90 L234.80,412.70 M230.30,400.90 L239.30,400.90 M230.30,412.70 L239.30,412.70"/>
<path fill="none" stroke="#2a2a2a" stroke-width="1.2" d="M255.90,427.40 L274.90,427.40 M265.40,424.40 L265.40,431.10 M260.90,424.40 L269.90,424.40 M260.90,431.10 L269.90,431.10"/>
<path fill="none" stroke="#2a2a2a" stroke-width="1.2" d="M286.10,433.40 L305.10,433.40 M295.60,429.30 L295.60,437.40 M291.10,429.30 L300.10,429.30 M291.10,437.40 L300.10,437.40"/>
<path fill="none" stroke="#2a2a2a" stroke-width="1.2" d="M316.60,427.30 L335.60,427.30 M326.10,423.50 L326.10,430.70 M321.60,423.50 L330.60,423.50 M321.60,430.70 L330.60,430.70"/>
<circle cx="235.10" cy="389.20" r="2.05" fill="#4a1270"/>
<circle cx="235.10" cy="399.90" r="2.05" fill="#4a1270"/>
<circle cx="231.20" cy="410.70" r="2.05" fill="#4a1270"/>
<circle cx="238.60" cy="412.30" r="2.05" fill="#4a1270"/>
<circle cx="235.10" cy="423.30" r="2.05" fill="#4a1270"/>
<circle cx="257.10" cy="417.30" r="2.05" fill="#c8102e"/>
<circle cx="265.60" cy="418.40" r="2.05" fill="#c8102e"/>
<circle cx="257.10" cy="422.80" r="2.05" fill="#c8102e"/>
<circle cx="265.60" cy="423.10" r="2.05" fill="#c8102e"/>
<circle cx="273.90" cy="422.00" r="2.05" fill="#c8102e"/>
<circle cx="265.60" cy="427.80" r="2.05" fill="#c8102e"/>
<circle cx="265.60" cy="438.50" r="2.05" fill="#c8102e"/>
<circle cx="273.90" cy="439.20" r="2.05" fill="#c8102e"/>
<circle cx="257.10" cy="442.20" r="2.05" fill="#c8102e"/>
<circle cx="295.90" cy="405.80" r="2.05" fill="#0b5296"/>
<circle cx="298.80" cy="429.30" r="2.05" fill="#0b5296"/>
<circle cx="287.50" cy="432.70" r="2.05" fill="#0b5296"/>
<circle cx="292.90" cy="433.40" r="2.05" fill="#0b5296"/>
<circle cx="298.80" cy="435.40" r="2.05" fill="#0b5296"/>
<circle cx="304.30" cy="434.00" r="2.05" fill="#0b5296"/>
<circle cx="295.90" cy="442.10" r="2.05" fill="#0b5296"/>
<circle cx="301.50" cy="443.00" r="2.05" fill="#0b5296"/>
<circle cx="290.20" cy="445.20" r="2.05" fill="#0b5296"/>
<circle cx="326.10" cy="408.90" r="2.05" fill="#27b33b"/>
<circle cx="322.10" cy="419.90" r="2.05" fill="#27b33b"/>
<circle cx="330.60" cy="419.90" r="2.05" fill="#27b33b"/>
<circle cx="326.10" cy="428.60" r="2.05" fill="#27b33b"/>
<circle cx="318.10" cy="432.00" r="2.05" fill="#27b33b"/>
<circle cx="326.10" cy="432.70" r="2.05" fill="#27b33b"/>
<circle cx="334.60" cy="432.30" r="2.05" fill="#27b33b"/>
<circle cx="326.10" cy="442.40" r="2.05" fill="#27b33b"/>
<path fill="none" stroke="#1a1a1a" stroke-width="1.25" d="M386.3,374.6 L386.3,466.8 L512.5,466.8"/>
<line x1="383.3" y1="466.80" x2="386.3" y2="466.80" stroke="#1a1a1a" stroke-width="1"/>
<text x="380.30" y="469.70" font-size="8.2" text-anchor="end" font-weight="normal" fill="#222">0</text>
<line x1="383.3" y1="452.12" x2="386.3" y2="452.12" stroke="#1a1a1a" stroke-width="1"/>
<text x="380.30" y="455.02" font-size="8.2" text-anchor="end" font-weight="normal" fill="#222">2</text>
<line x1="383.3" y1="437.44" x2="386.3" y2="437.44" stroke="#1a1a1a" stroke-width="1"/>
<text x="380.30" y="440.34" font-size="8.2" text-anchor="end" font-weight="normal" fill="#222">4</text>
<line x1="383.3" y1="422.76" x2="386.3" y2="422.76" stroke="#1a1a1a" stroke-width="1"/>
<text x="380.30" y="425.66" font-size="8.2" text-anchor="end" font-weight="normal" fill="#222">6</text>
<line x1="383.3" y1="408.08" x2="386.3" y2="408.08" stroke="#1a1a1a" stroke-width="1"/>
<text x="380.30" y="410.98" font-size="8.2" text-anchor="end" font-weight="normal" fill="#222">8</text>
<line x1="383.3" y1="393.40" x2="386.3" y2="393.40" stroke="#1a1a1a" stroke-width="1"/>
<text x="380.30" y="396.30" font-size="8.2" text-anchor="end" font-weight="normal" fill="#222">10</text>
<line x1="383.3" y1="378.72" x2="386.3" y2="378.72" stroke="#1a1a1a" stroke-width="1"/>
<text x="380.30" y="381.62" font-size="8.2" text-anchor="end" font-weight="normal" fill="#222">12</text>
<line x1="406.3" y1="466.8" x2="406.3" y2="469.40000000000003" stroke="#1a1a1a" stroke-width="1"/>
<line x1="436.8" y1="466.8" x2="436.8" y2="469.40000000000003" stroke="#1a1a1a" stroke-width="1"/>
<line x1="467.2" y1="466.8" x2="467.2" y2="469.40000000000003" stroke="#1a1a1a" stroke-width="1"/>
<line x1="497.6" y1="466.8" x2="497.6" y2="469.40000000000003" stroke="#1a1a1a" stroke-width="1"/>
<text x="0" y="0" font-size="8.2" text-anchor="end" fill="#222" transform="translate(410.20,477.70) rotate(-45) scale(0.97,1)">Control</text>
<text x="0" y="0" font-size="8.2" text-anchor="end" fill="#222" transform="translate(440.70,477.70) rotate(-45) scale(0.97,1)">uPA-Gran-MV</text>
<text x="0" y="0" font-size="8.2" text-anchor="end" fill="#222" transform="translate(471.10,477.70) rotate(-45) scale(0.97,1)">Gran-MV</text>
<text x="0" y="0" font-size="8.2" text-anchor="end" fill="#222" transform="translate(501.50,477.70) rotate(-45) scale(0.97,1)">SPN uPA-Gran-MV</text>
<text x="0" y="0" font-size="9.0" text-anchor="middle" fill="#222" transform="translate(366.4,422.4) rotate(-90) scale(0.86,1)">MV-PGC (A<tspan font-size="6.8" dy="1.9">405nm</tspan><tspan dy="-1.9">×10</tspan><tspan font-size="6.4" dy="-3">-3</tspan><tspan dy="3">/min)</tspan></text>
<text x="372.20" y="368.00" font-size="11.2" text-anchor="start" font-weight="bold" fill="#000" class="bd">c</text>
<text x="0" y="0" transform="translate(449.00,367.50) scale(0.9,1)" font-size="10" text-anchor="middle" font-weight="normal" fill="#222">D5</text>
<line x1="405.2" y1="376.5" x2="432.8" y2="376.5" stroke="#2a2a2a" stroke-width="1.15"/>
<text x="0" y="0" transform="translate(419.00,373.80) scale(0.88,1)" font-size="8.7" text-anchor="middle" font-weight="normal" fill="#222">NS</text>
<line x1="435.7" y1="376.5" x2="496.5" y2="376.5" stroke="#2a2a2a" stroke-width="1.15"/>
<polygon fill="#111" points="465.10,369.70 465.69,371.19 467.29,371.29 466.05,372.31 466.45,373.86 465.10,373.00 463.75,373.86 464.15,372.31 462.91,371.29 464.51,371.19"/>
<polygon fill="#111" points="469.10,369.70 469.69,371.19 471.29,371.29 470.05,372.31 470.45,373.86 469.10,373.00 467.75,373.86 468.15,372.31 466.91,371.29 468.51,371.19"/>
<line x1="438.9" y1="388.5" x2="466.4" y2="388.5" stroke="#2a2a2a" stroke-width="1.15"/>
<polygon fill="#111" points="449.20,381.90 449.79,383.39 451.39,383.49 450.15,384.51 450.55,386.06 449.20,385.20 447.85,386.06 448.25,384.51 447.01,383.49 448.61,383.39"/>
<polygon fill="#111" points="453.20,381.90 453.79,383.39 455.39,383.49 454.15,384.51 454.55,386.06 453.20,385.20 451.85,386.06 452.25,384.51 451.01,383.49 452.61,383.39"/>
<path fill="none" stroke="#2a2a2a" stroke-width="1.2" d="M396.80,406.80 L415.80,406.80 M406.30,401.00 L406.30,412.50 M401.80,401.00 L410.80,401.00 M401.80,412.50 L410.80,412.50"/>
<path fill="none" stroke="#2a2a2a" stroke-width="1.2" d="M427.30,423.20 L446.30,423.20 M436.80,418.00 L436.80,427.60 M432.30,418.00 L441.30,418.00 M432.30,427.60 L441.30,427.60"/>
<path fill="none" stroke="#2a2a2a" stroke-width="1.2" d="M457.70,442.80 L476.70,442.80 M467.20,439.00 L467.20,446.40 M462.70,439.00 L471.70,439.00 M462.70,446.40 L471.70,446.40"/>
<path fill="none" stroke="#2a2a2a" stroke-width="1.2" d="M488.10,441.30 L507.10,441.30 M497.60,438.10 L497.60,444.40 M493.10,438.10 L502.10,438.10 M493.10,444.40 L502.10,444.40"/>
<circle cx="406.50" cy="388.90" r="2.05" fill="#4a1270"/>
<circle cx="406.50" cy="399.70" r="2.05" fill="#4a1270"/>
<circle cx="402.90" cy="410.50" r="2.05" fill="#4a1270"/>
<circle cx="410.30" cy="412.10" r="2.05" fill="#4a1270"/>
<circle cx="406.50" cy="422.90" r="2.05" fill="#4a1270"/>
<circle cx="436.80" cy="400.30" r="2.05" fill="#c8102e"/>
<circle cx="428.70" cy="419.40" r="2.05" fill="#c8102e"/>
<circle cx="436.80" cy="417.10" r="2.05" fill="#c8102e"/>
<circle cx="445.30" cy="417.10" r="2.05" fill="#c8102e"/>
<circle cx="436.80" cy="421.40" r="2.05" fill="#c8102e"/>
<circle cx="428.70" cy="436.90" r="2.05" fill="#c8102e"/>
<circle cx="436.80" cy="435.30" r="2.05" fill="#c8102e"/>
<circle cx="445.30" cy="436.60" r="2.05" fill="#c8102e"/>
<circle cx="463.80" cy="426.60" r="2.05" fill="#0b5296"/>
<circle cx="471.20" cy="429.30" r="2.05" fill="#0b5296"/>
<circle cx="463.80" cy="439.70" r="2.05" fill="#0b5296"/>
<circle cx="471.20" cy="441.00" r="2.05" fill="#0b5296"/>
<circle cx="471.20" cy="447.10" r="2.05" fill="#0b5296"/>
<circle cx="463.80" cy="449.80" r="2.05" fill="#0b5296"/>
<circle cx="471.20" cy="452.20" r="2.05" fill="#0b5296"/>
<circle cx="467.20" cy="457.50" r="2.05" fill="#0b5296"/>
<circle cx="489.40" cy="427.30" r="2.05" fill="#27b33b"/>
<circle cx="497.90" cy="428.90" r="2.05" fill="#27b33b"/>
<circle cx="497.90" cy="437.70" r="2.05" fill="#27b33b"/>
<circle cx="497.90" cy="442.00" r="2.05" fill="#27b33b"/>
<circle cx="497.90" cy="445.50" r="2.05" fill="#27b33b"/>
<circle cx="489.40" cy="450.70" r="2.05" fill="#27b33b"/>
<circle cx="497.90" cy="450.10" r="2.05" fill="#27b33b"/>
<circle cx="506.20" cy="450.10" r="2.05" fill="#27b33b"/>
<path fill="none" stroke="#1a1a1a" stroke-width="1.25" d="M39.0,557.0 L39.0,649.0 L164.1,649.0"/>
<line x1="36.0" y1="649.00" x2="39.0" y2="649.00" stroke="#1a1a1a" stroke-width="1"/>
<text x="33.00" y="651.90" font-size="8.2" text-anchor="end" font-weight="normal" fill="#222">0</text>
<line x1="36.0" y1="620.33" x2="39.0" y2="620.33" stroke="#1a1a1a" stroke-width="1"/>
<text x="33.00" y="623.23" font-size="8.2" text-anchor="end" font-weight="normal" fill="#222">100</text>
<line x1="36.0" y1="591.66" x2="39.0" y2="591.66" stroke="#1a1a1a" stroke-width="1"/>
<text x="33.00" y="594.56" font-size="8.2" text-anchor="end" font-weight="normal" fill="#222">200</text>
<line x1="36.0" y1="562.99" x2="39.0" y2="562.99" stroke="#1a1a1a" stroke-width="1"/>
<text x="33.00" y="565.89" font-size="8.2" text-anchor="end" font-weight="normal" fill="#222">300</text>
<line x1="58.5" y1="649.0" x2="58.5" y2="651.6" stroke="#1a1a1a" stroke-width="1"/>
<line x1="88.5" y1="649.0" x2="88.5" y2="651.6" stroke="#1a1a1a" stroke-width="1"/>
<line x1="118.5" y1="649.0" x2="118.5" y2="651.6" stroke="#1a1a1a" stroke-width="1"/>
<line x1="148.7" y1="649.0" x2="148.7" y2="651.6" stroke="#1a1a1a" stroke-width="1"/>
<text x="0" y="0" font-size="8.2" text-anchor="end" fill="#222" transform="translate(62.40,659.90) rotate(-45) scale(0.97,1)">Control</text>
<text x="0" y="0" font-size="8.2" text-anchor="end" fill="#222" transform="translate(92.40,659.90) rotate(-45) scale(0.97,1)">uPA-Gran-MV</text>
<text x="0" y="0" font-size="8.2" text-anchor="end" fill="#222" transform="translate(122.40,659.90) rotate(-45) scale(0.97,1)">Gran-MV</text>
<text x="0" y="0" font-size="8.2" text-anchor="end" fill="#222" transform="translate(152.60,659.90) rotate(-45) scale(0.97,1)">SPN uPA-Gran-MV</text>
<text x="0" y="0" font-size="9.2" text-anchor="middle" fill="#222" transform="translate(14.2,605.9) rotate(-90) scale(0.8,1)">TAT (ng/ml)</text>
<text x="20.10" y="550.00" font-size="11.2" text-anchor="start" font-weight="bold" fill="#000" class="bd">a</text>
<text x="0" y="0" transform="translate(101.20,550.00) scale(0.9,1)" font-size="10" text-anchor="middle" font-weight="normal" fill="#222">D1</text>
<line x1="87.9" y1="603.5" x2="147.1" y2="603.5" stroke="#2a2a2a" stroke-width="1.15"/>
<text x="0" y="0" transform="translate(117.50,600.90) scale(0.88,1)" font-size="8.7" text-anchor="middle" font-weight="normal" fill="#222">NS</text>
<path fill="none" stroke="#2a2a2a" stroke-width="1.2" d="M49.20,636.30 L67.80,636.30 M58.50,633.80 L58.50,639.00 M54.00,633.80 L63.00,633.80 M54.00,639.00 L63.00,639.00"/>
<path fill="none" stroke="#2a2a2a" stroke-width="1.2" d="M79.10,637.50 L97.90,637.50 M88.50,633.50 L88.50,641.00 M84.00,633.50 L93.00,633.50 M84.00,641.00 L93.00,641.00"/>
<path fill="none" stroke="#2a2a2a" stroke-width="1.2" d="M113.30,640.00 L123.70,640.00 M118.50,639.20 L118.50,640.80 M114.00,639.20 L123.00,639.20 M114.00,640.80 L123.00,640.80"/>
<path fill="none" stroke="#2a2a2a" stroke-width="1.2" d="M139.30,638.30 L158.10,638.30 M148.70,635.00 L148.70,640.60 M144.20,635.00 L153.20,635.00 M144.20,640.60 L153.20,640.60"/>
<circle cx="58.50" cy="626.90" r="2.05" fill="#4a1270"/>
<circle cx="55.90" cy="638.40" r="2.05" fill="#4a1270"/>
<circle cx="61.30" cy="639.00" r="2.05" fill="#4a1270"/>
<circle cx="66.80" cy="638.10" r="2.05" fill="#4a1270"/>
<circle cx="50.60" cy="641.00" r="2.05" fill="#4a1270"/>
<circle cx="88.50" cy="613.80" r="2.05" fill="#c8102e"/>
<circle cx="88.50" cy="636.10" r="2.05" fill="#c8102e"/>
<circle cx="80.40" cy="641.00" r="2.05" fill="#c8102e"/>
<circle cx="85.80" cy="641.00" r="2.05" fill="#c8102e"/>
<circle cx="91.60" cy="642.90" r="2.05" fill="#c8102e"/>
<circle cx="96.80" cy="642.90" r="2.05" fill="#c8102e"/>
<circle cx="80.40" cy="645.20" r="2.05" fill="#c8102e"/>
<circle cx="110.40" cy="639.60" r="2.05" fill="#0b5296"/>
<circle cx="115.60" cy="638.40" r="2.05" fill="#0b5296"/>
<circle cx="121.10" cy="638.10" r="2.05" fill="#0b5296"/>
<circle cx="121.10" cy="642.10" r="2.05" fill="#0b5296"/>
<circle cx="126.90" cy="639.80" r="2.05" fill="#0b5296"/>
<circle cx="110.40" cy="643.30" r="2.05" fill="#0b5296"/>
<circle cx="148.70" cy="627.90" r="2.05" fill="#27b33b"/>
<circle cx="152.20" cy="637.20" r="2.05" fill="#27b33b"/>
<circle cx="145.20" cy="639.80" r="2.05" fill="#27b33b"/>
<circle cx="152.20" cy="642.70" r="2.05" fill="#27b33b"/>
<circle cx="145.20" cy="643.80" r="2.05" fill="#27b33b"/>
<path fill="none" stroke="#1a1a1a" stroke-width="1.25" d="M214.3,557.0 L214.3,648.8 L340.6,648.8"/>
<line x1="211.3" y1="648.80" x2="214.3" y2="648.80" stroke="#1a1a1a" stroke-width="1"/>
<text x="208.30" y="651.70" font-size="8.2" text-anchor="end" font-weight="normal" fill="#222">0</text>
<line x1="211.3" y1="620.13" x2="214.3" y2="620.13" stroke="#1a1a1a" stroke-width="1"/>
<text x="208.30" y="623.03" font-size="8.2" text-anchor="end" font-weight="normal" fill="#222">100</text>
<line x1="211.3" y1="591.46" x2="214.3" y2="591.46" stroke="#1a1a1a" stroke-width="1"/>
<text x="208.30" y="594.36" font-size="8.2" text-anchor="end" font-weight="normal" fill="#222">200</text>
<line x1="211.3" y1="562.79" x2="214.3" y2="562.79" stroke="#1a1a1a" stroke-width="1"/>
<text x="208.30" y="565.69" font-size="8.2" text-anchor="end" font-weight="normal" fill="#222">300</text>
<line x1="234.4" y1="648.8" x2="234.4" y2="651.4" stroke="#1a1a1a" stroke-width="1"/>
<line x1="264.6" y1="648.8" x2="264.6" y2="651.4" stroke="#1a1a1a" stroke-width="1"/>
<line x1="294.6" y1="648.8" x2="294.6" y2="651.4" stroke="#1a1a1a" stroke-width="1"/>
<line x1="324.4" y1="648.8" x2="324.4" y2="651.4" stroke="#1a1a1a" stroke-width="1"/>
<text x="0" y="0" font-size="8.2" text-anchor="end" fill="#222" transform="translate(238.30,659.70) rotate(-45) scale(0.97,1)">Control</text>
<text x="0" y="0" font-size="8.2" text-anchor="end" fill="#222" transform="translate(268.50,659.70) rotate(-45) scale(0.97,1)">uPA-Gran-MV</text>
<text x="0" y="0" font-size="8.2" text-anchor="end" fill="#222" transform="translate(298.50,659.70) rotate(-45) scale(0.97,1)">Gran-MV</text>
<text x="0" y="0" font-size="8.2" text-anchor="end" fill="#222" transform="translate(328.30,659.70) rotate(-45) scale(0.97,1)">SPN uPA-Gran-MV</text>
<text x="0" y="0" font-size="9.2" text-anchor="middle" fill="#222" transform="translate(189.5,605.9) rotate(-90) scale(0.8,1)">TAT (ng/ml)</text>
<text x="196.50" y="549.70" font-size="11.2" text-anchor="start" font-weight="bold" fill="#000" class="bd">b</text>
<text x="0" y="0" transform="translate(278.40,549.70) scale(0.9,1)" font-size="10" text-anchor="middle" font-weight="normal" fill="#222">D2</text>
<line x1="266.6" y1="589.5" x2="326.6" y2="589.5" stroke="#2a2a2a" stroke-width="1.15"/>
<text x="0" y="0" transform="translate(296.60,586.00) scale(0.88,1)" font-size="8.7" text-anchor="middle" font-weight="normal" fill="#222">NS</text>
<path fill="none" stroke="#2a2a2a" stroke-width="1.2" d="M225.10,636.50 L243.70,636.50 M234.40,634.00 L234.40,638.50 M229.90,634.00 L238.90,634.00 M229.90,638.50 L238.90,638.50"/>
<path fill="none" stroke="#2a2a2a" stroke-width="1.2" d="M255.20,631.30 L274.00,631.30 M264.60,628.50 L264.60,634.60 M260.10,628.50 L269.10,628.50 M260.10,634.60 L269.10,634.60"/>
<path fill="none" stroke="#2a2a2a" stroke-width="1.2" d="M285.10,629.40 L304.10,629.40 M294.60,625.00 L294.60,633.50 M290.10,625.00 L299.10,625.00 M290.10,633.50 L299.10,633.50"/>
<path fill="none" stroke="#2a2a2a" stroke-width="1.2" d="M315.00,634.00 L333.80,634.00 M324.40,631.30 L324.40,636.90 M319.90,631.30 L328.90,631.30 M319.90,636.90 L328.90,636.90"/>
<circle cx="234.40" cy="626.60" r="2.05" fill="#4a1270"/>
<circle cx="231.60" cy="638.50" r="2.05" fill="#4a1270"/>
<circle cx="237.30" cy="639.00" r="2.05" fill="#4a1270"/>
<circle cx="242.90" cy="638.50" r="2.05" fill="#4a1270"/>
<circle cx="226.50" cy="641.00" r="2.05" fill="#4a1270"/>
<circle cx="264.60" cy="613.10" r="2.05" fill="#c8102e"/>
<circle cx="264.60" cy="625.60" r="2.05" fill="#c8102e"/>
<circle cx="256.30" cy="630.00" r="2.05" fill="#c8102e"/>
<circle cx="272.80" cy="631.50" r="2.05" fill="#c8102e"/>
<circle cx="264.60" cy="632.80" r="2.05" fill="#c8102e"/>
<circle cx="264.60" cy="638.80" r="2.05" fill="#c8102e"/>
<circle cx="256.30" cy="641.00" r="2.05" fill="#c8102e"/>
<circle cx="272.80" cy="639.80" r="2.05" fill="#c8102e"/>
<circle cx="294.60" cy="597.30" r="2.05" fill="#0b5296"/>
<circle cx="297.30" cy="624.00" r="2.05" fill="#0b5296"/>
<circle cx="291.60" cy="626.60" r="2.05" fill="#0b5296"/>
<circle cx="291.60" cy="633.10" r="2.05" fill="#0b5296"/>
<circle cx="297.30" cy="633.10" r="2.05" fill="#0b5296"/>
<circle cx="286.00" cy="638.10" r="2.05" fill="#0b5296"/>
<circle cx="291.60" cy="636.90" r="2.05" fill="#0b5296"/>
<circle cx="297.30" cy="637.90" r="2.05" fill="#0b5296"/>
<circle cx="302.80" cy="637.50" r="2.05" fill="#0b5296"/>
<circle cx="324.40" cy="618.80" r="2.05" fill="#27b33b"/>
<circle cx="324.40" cy="629.80" r="2.05" fill="#27b33b"/>
<circle cx="316.00" cy="633.10" r="2.05" fill="#27b33b"/>
<circle cx="333.10" cy="635.30" r="2.05" fill="#27b33b"/>
<circle cx="316.00" cy="636.90" r="2.05" fill="#27b33b"/>
<circle cx="324.40" cy="639.40" r="2.05" fill="#27b33b"/>
<circle cx="316.00" cy="640.60" r="2.05" fill="#27b33b"/>
<circle cx="333.10" cy="640.40" r="2.05" fill="#27b33b"/>
<path fill="none" stroke="#1a1a1a" stroke-width="1.25" d="M386.0,557.0 L386.0,649.1 L511.9,649.1"/>
<line x1="383.0" y1="649.10" x2="386.0" y2="649.10" stroke="#1a1a1a" stroke-width="1"/>
<text x="380.00" y="652.00" font-size="8.2" text-anchor="end" font-weight="normal" fill="#222">0</text>
<line x1="383.0" y1="620.43" x2="386.0" y2="620.43" stroke="#1a1a1a" stroke-width="1"/>
<text x="380.00" y="623.33" font-size="8.2" text-anchor="end" font-weight="normal" fill="#222">100</text>
<line x1="383.0" y1="591.76" x2="386.0" y2="591.76" stroke="#1a1a1a" stroke-width="1"/>
<text x="380.00" y="594.66" font-size="8.2" text-anchor="end" font-weight="normal" fill="#222">200</text>
<line x1="383.0" y1="563.09" x2="386.0" y2="563.09" stroke="#1a1a1a" stroke-width="1"/>
<text x="380.00" y="565.99" font-size="8.2" text-anchor="end" font-weight="normal" fill="#222">300</text>
<line x1="406.4" y1="649.1" x2="406.4" y2="651.7" stroke="#1a1a1a" stroke-width="1"/>
<line x1="436.4" y1="649.1" x2="436.4" y2="651.7" stroke="#1a1a1a" stroke-width="1"/>
<line x1="466.3" y1="649.1" x2="466.3" y2="651.7" stroke="#1a1a1a" stroke-width="1"/>
<line x1="496.5" y1="649.1" x2="496.5" y2="651.7" stroke="#1a1a1a" stroke-width="1"/>
<text x="0" y="0" font-size="8.2" text-anchor="end" fill="#222" transform="translate(410.30,660.00) rotate(-45) scale(0.97,1)">Control</text>
<text x="0" y="0" font-size="8.2" text-anchor="end" fill="#222" transform="translate(440.30,660.00) rotate(-45) scale(0.97,1)">uPA-Gran-MV</text>
<text x="0" y="0" font-size="8.2" text-anchor="end" fill="#222" transform="translate(470.20,660.00) rotate(-45) scale(0.97,1)">Gran-MV</text>
<text x="0" y="0" font-size="8.2" text-anchor="end" fill="#222" transform="translate(500.40,660.00) rotate(-45) scale(0.97,1)">SPN uPA-Gran-MV</text>
<text x="0" y="0" font-size="9.2" text-anchor="middle" fill="#222" transform="translate(361.2,605.9) rotate(-90) scale(0.8,1)">TAT (ng/ml)</text>
<text x="367.00" y="549.70" font-size="11.2" text-anchor="start" font-weight="bold" fill="#000" class="bd">c</text>
<text x="0" y="0" transform="translate(449.00,549.70) scale(0.9,1)" font-size="10" text-anchor="middle" font-weight="normal" fill="#222">D5</text>
<line x1="438.9" y1="565.5" x2="498.7" y2="565.5" stroke="#2a2a2a" stroke-width="1.15"/>
<text x="0" y="0" transform="translate(468.80,562.00) scale(0.88,1)" font-size="8.7" text-anchor="middle" font-weight="normal" fill="#222">NS</text>
<path fill="none" stroke="#2a2a2a" stroke-width="1.2" d="M397.20,636.40 L415.60,636.40 M406.40,634.10 L406.40,638.50 M401.90,634.10 L410.90,634.10 M401.90,638.50 L410.90,638.50"/>
<path fill="none" stroke="#2a2a2a" stroke-width="1.2" d="M426.90,628.10 L445.90,628.10 M436.40,624.40 L436.40,631.50 M431.90,624.40 L440.90,624.40 M431.90,631.50 L440.90,631.50"/>
<path fill="none" stroke="#2a2a2a" stroke-width="1.2" d="M456.80,605.60 L475.80,605.60 M466.30,592.80 L466.30,618.40 M461.80,592.80 L470.80,592.80 M461.80,618.40 L470.80,618.40"/>
<path fill="none" stroke="#2a2a2a" stroke-width="1.2" d="M487.00,623.10 L506.00,623.10 M496.50,619.40 L496.50,626.60 M492.00,619.40 L501.00,619.40 M492.00,626.60 L501.00,626.60"/>
<circle cx="406.40" cy="626.70" r="2.05" fill="#4a1270"/>
<circle cx="403.80" cy="638.50" r="2.05" fill="#4a1270"/>
<circle cx="409.40" cy="638.80" r="2.05" fill="#4a1270"/>
<circle cx="414.80" cy="638.20" r="2.05" fill="#4a1270"/>
<circle cx="398.30" cy="640.80" r="2.05" fill="#4a1270"/>
<circle cx="436.40" cy="611.30" r="2.05" fill="#c8102e"/>
<circle cx="436.40" cy="618.30" r="2.05" fill="#c8102e"/>
<circle cx="436.40" cy="622.30" r="2.05" fill="#c8102e"/>
<circle cx="432.90" cy="628.10" r="2.05" fill="#c8102e"/>
<circle cx="440.20" cy="631.20" r="2.05" fill="#c8102e"/>
<circle cx="436.40" cy="635.20" r="2.05" fill="#c8102e"/>
<circle cx="432.90" cy="640.20" r="2.05" fill="#c8102e"/>
<circle cx="440.20" cy="639.00" r="2.05" fill="#c8102e"/>
<circle cx="466.30" cy="590.60" r="2.05" fill="#0b5296"/>
<circle cx="466.30" cy="596.00" r="2.05" fill="#0b5296"/>
<circle cx="466.30" cy="621.50" r="2.05" fill="#0b5296"/>
<circle cx="466.30" cy="628.10" r="2.05" fill="#0b5296"/>
<circle cx="466.30" cy="642.90" r="2.05" fill="#0b5296"/>
<circle cx="488.10" cy="607.10" r="2.05" fill="#27b33b"/>
<circle cx="496.30" cy="610.00" r="2.05" fill="#27b33b"/>
<circle cx="496.30" cy="615.00" r="2.05" fill="#27b33b"/>
<circle cx="488.10" cy="627.30" r="2.05" fill="#27b33b"/>
<circle cx="496.30" cy="626.90" r="2.05" fill="#27b33b"/>
<circle cx="505.00" cy="629.00" r="2.05" fill="#27b33b"/>
<circle cx="500.60" cy="633.50" r="2.05" fill="#27b33b"/>
<circle cx="492.30" cy="636.00" r="2.05" fill="#27b33b"/>
<rect x="0.5" y="0.5" width="519" height="711" fill="none" stroke="#000" stroke-width="1.2"/>
</svg>
</body></html>
